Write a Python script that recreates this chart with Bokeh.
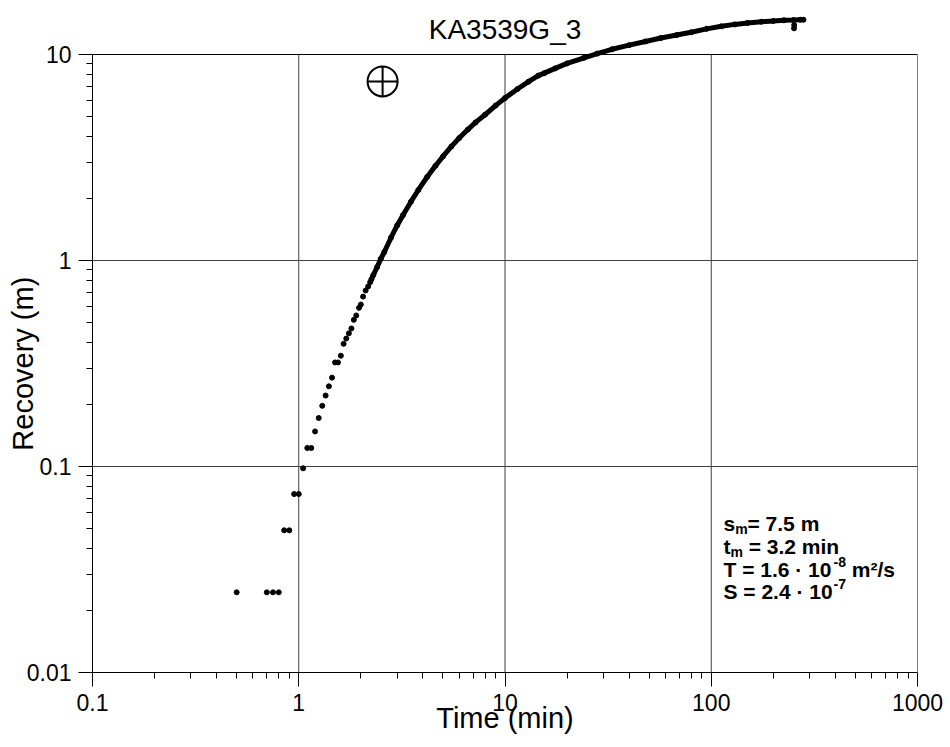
from bokeh.plotting import figure
from bokeh.models import FixedTicker, CustomJSTickFormatter, Label, Range1d
from bokeh.embed import file_html
from bokeh.resources import INLINE

# ---------------- data ----------------
title_text = "KA3539G_3"
x_label = "Time (min)"
y_label = "Recovery (m)"

x_ticks = [0.1, 1, 10, 100, 1000]
y_ticks = [0.01, 0.1, 1, 10]

# sparse early points (min, m)
early_t = [0.50, 0.70, 0.75, 0.80, 0.85, 0.90, 0.95, 1.00, 1.05, 1.10, 1.15, 1.20,
           1.25, 1.30, 1.35, 1.40, 1.45, 1.50, 1.55, 1.60, 1.65, 1.70, 1.75, 1.80,
           1.85, 1.90, 1.96, 2.00, 2.05, 2.11, 2.17, 2.22]
early_s = [0.0245, 0.0245, 0.0245, 0.0245, 0.049, 0.049, 0.0735, 0.0735, 0.098, 0.123, 0.123, 0.148,
           0.172, 0.197, 0.221, 0.245, 0.270, 0.320, 0.320, 0.345, 0.394, 0.418, 0.443, 0.468,
           0.515, 0.541, 0.589, 0.611, 0.668, 0.715, 0.748, 0.785]

# dense part of the record (min, m)
curve_t = [2.25, 2.3, 2.4, 2.5, 2.6, 2.8, 3.0, 3.2, 3.5, 3.8, 4.2, 4.6, 5.0, 5.5, 6.0,
           6.6, 7.2, 8.0, 9.0, 10, 11.5, 13, 14.5, 15.5, 17.5, 20, 24, 28, 33, 40, 48, 57, 68,
           80, 95, 112, 130, 150, 175, 200, 225, 250, 270, 280]
curve_s = [0.81, 0.85, 0.93, 1.02, 1.10, 1.29, 1.48, 1.66, 1.93, 2.20, 2.55, 2.88, 3.20, 3.58, 3.93,
           4.32, 4.68, 5.10, 5.65, 6.15, 6.80, 7.38, 7.90, 8.12, 8.56, 9.05, 9.61, 10.1, 10.6, 11.1,
           11.57, 12.03, 12.43, 12.83, 13.32, 13.7, 14.0, 14.23, 14.42, 14.55, 14.65, 14.7, 14.75, 14.75]

dip_t = [252, 252.5]
dip_s = [13.4, 13.9]

match_t = [2.55]
match_s = [7.4]

# ---------------- figure ----------------
FL, FR, FB, FT = 92, 917, 672, 6
Y_DEC = 3.233
Y_TOP = 10 ** (Y_DEC - 2)

p = figure(width=950, height=747, x_axis_type="log", y_axis_type="log",
           x_range=Range1d(0.1, 1000), y_range=Range1d(0.01, Y_TOP),
           output_backend="svg", toolbar_location=None,
           min_border_left=FL, min_border_right=950 - FR,
           min_border_bottom=747 - FB, min_border_top=FT)
p.outline_line_color = None
p.background_fill_color = "white"
p.border_fill_color = "white"
p.xgrid.visible = False
p.ygrid.visible = False


def xd(px):
    return 10 ** (-1 + (px - FL) * 4.0 / (FR - FL))


def yd(px):
    return 10 ** (-2 + (FB - px) * Y_DEC / (FB - FT))


FONT = "Liberation Sans"
fmt = CustomJSTickFormatter(code="return tick.toString();")

minor_x = [d * m for d in [0.1, 1, 10, 100] for m in range(2, 10)]
minor_y = [d * m for d in [0.01, 0.1, 1] for m in range(2, 10)]

for ax, ticks, minor in ((p.xaxis[0], x_ticks, minor_x), (p.yaxis[0], y_ticks, minor_y)):
    ax.ticker = FixedTicker(ticks=ticks, minor_ticks=minor)
    ax.formatter = fmt
    ax.major_tick_out = 14
    ax.major_tick_in = 0
    ax.minor_tick_out = 6
    ax.minor_tick_in = 0
    ax.axis_line_color = "black"
    ax.major_tick_line_color = "black"
    ax.minor_tick_line_color = "black"
    ax.major_label_text_font = FONT
    ax.major_label_text_font_size = "23px"
    ax.major_label_text_color = "black"
    ax.major_label_standoff = 7
    ax.axis_label_text_font = FONT
    ax.axis_label_text_font_size = "29px"
    ax.axis_label_text_font_style = "normal"
    ax.axis_label_text_color = "black"

p.yaxis[0].bounds = (0.01, 10)
p.xaxis[0].axis_label = x_label
p.xaxis[0].axis_label_standoff = -12
# trailing no-break spaces shift the centred title down onto the 0.01..10 part of the frame
p.yaxis[0].axis_label = y_label + "\u00a0" * 6
p.yaxis[0].axis_label_standoff = -15

# grid lines and the top / right frame borders
gx = x_ticks[1:-1]
gy = y_ticks[1:-1]
p.segment(x0=gx, y0=[y_ticks[0]] * len(gx), x1=gx, y1=[y_ticks[-1]] * len(gx),
          line_color="#404040", line_width=1)
p.segment(x0=[x_ticks[0]] * len(gy), y0=gy, x1=[x_ticks[-1]] * len(gy), y1=gy,
          line_color="#404040", line_width=1)
p.segment(x0=[x_ticks[0], x_ticks[-1]], y0=[y_ticks[-1], y_ticks[0]],
          x1=[x_ticks[-1], x_ticks[-1]], y1=[y_ticks[-1], y_ticks[-1]],
          line_color="black", line_width=1)

# data
p.line(curve_t, curve_s, line_color="black", line_width=5)
p.scatter(curve_t, curve_s, size=5, color="black")
p.scatter(early_t, early_s, size=5, color="black")
p.scatter(dip_t, dip_s, size=5, color="black")
p.scatter(match_t, match_s, marker="circle_cross", size=30, fill_color=None,
          line_color="black", line_width=2)

# title inside the extended frame
p.add_layout(Label(x=10, y=yd(29), text=title_text, text_align="center",
                   text_baseline="alphabetic", text_font=FONT, text_font_size="28px",
                   text_color="black"))

# parameter block
F = "21px"
SF = "14px"
NB = "\u00a0"


def lab(px_dx, base_px, txt, size=F):
    p.add_layout(Label(x=xd(723 + px_dx), y=yd(base_px), text=txt, text_align="left",
                       text_baseline="alphabetic", text_font=FONT, text_font_size=size,
                       text_font_style="bold", text_color="black"))


b1, b2, b3, b4 = 523, 546, 569, 591
lab(0, b1, "s")
lab(11.7, b1 + 5, "m", SF)
lab(24.0, b1, "= 7.5 m")
lab(0, b2, "t")
lab(7.0, b2 + 5, "m", SF)
lab(19.3, b2, NB + "= 3.2 min")
lab(0, b3, "T = 1.6 \u00b7 10")
lab(110.0, b3 - 8, "-8", SF)
lab(122.5, b3, NB + "m\u00b2/s")
lab(0, b4, "S = 2.4 \u00b7 10")
lab(110.0, b4 - 8, "-7", SF)

open("out.html", "w").write(file_html(p, INLINE))
